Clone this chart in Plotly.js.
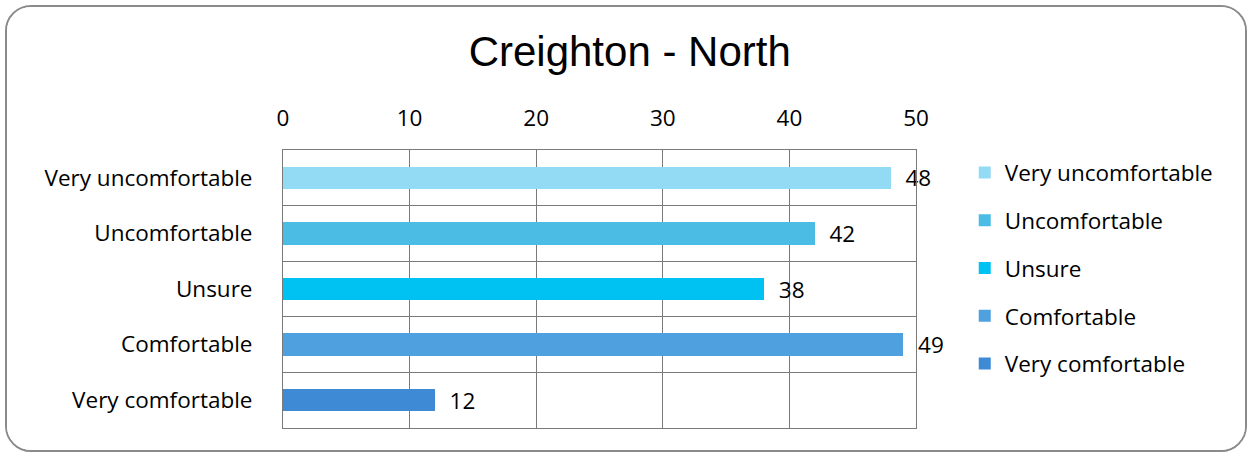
<!DOCTYPE html>
<html>
<head>
<meta charset="utf-8">
<script src="https://cdn.plot.ly/plotly-3.0.1.min.js"></script>
<style>
  body { margin: 0; background: #fff; }
  #frame {
    position: absolute; left: 5px; top: 5px;
    width: 1238px; height: 443px;
    border: 2px solid #8a8a8a; border-radius: 26px;
    overflow: hidden;
  }
  #myDiv { width: 1238px; height: 443px; }
</style>
</head>
<body>
<div id="frame"><div id="myDiv"></div></div>
<script>
var categories = ['Very uncomfortable', 'Uncomfortable', 'Unsure', 'Comfortable', 'Very comfortable'];
var counts = [48, 42, 38, 49, 12];
var colors = ['#93DAF5', '#4BBDE4', '#00C2F2', '#4FA0DF', '#3F8AD5'];

var labelFont = { family: 'Open Sans', size: 22.5, color: '#000' };

var data = categories.map(function (cat, i) {
   return {
      type: 'bar',
      orientation: 'h',
      name: cat,
      legendgroup: cat,
      y: [cat],
      x: [counts[i]],
      width: 0.4,
      text: [String(counts[i])],
      texttemplate: '  %{text}',
      textposition: 'outside',
      constraintext: 'none',
      cliponaxis: false,
      textfont: labelFont,
      marker: { color: colors[i] },
      hoverinfo: 'x+y'
   };
});

var layout = {
   width: 1238,
   height: 443,
   margin: { l: 276, r: 329, t: 143, b: 22 },
   paper_bgcolor: '#fff',
   plot_bgcolor: '#fff',
   barmode: 'stack',
   title: {
      text: 'Creighton - North',
      font: { family: 'Liberation Sans', size: 42, color: '#000' },
      x: 0.503, xanchor: 'center',
      yref: 'container', y: 0.9, yanchor: 'middle'
   },
   xaxis: {
      side: 'top',
      range: [0, 50],
      dtick: 10,
      showgrid: true,
      gridcolor: '#7a7a7a',
      gridwidth: 1,
      showline: true,
      linecolor: '#7a7a7a',
      mirror: true,
      zeroline: false,
      ticks: '',
      ticklabelstandoff: 14,
      tickfont: labelFont
   },
   yaxis: {
      type: 'category',
      categoryorder: 'array',
      categoryarray: categories,
      autorange: 'reversed',
      tickson: 'boundaries',
      showgrid: true,
      gridcolor: '#7a7a7a',
      gridwidth: 1,
      showline: true,
      linecolor: '#7a7a7a',
      mirror: true,
      ticks: '',
      ticklabelstandoff: 25,
      tickfont: labelFont
   },
   showlegend: true,
   legend: {
      x: 1.077, xanchor: 'left',
      y: 0.995, yanchor: 'top',
      traceorder: 'grouped',
      tracegroupgap: 15.5,
      itemwidth: 30,
      font: labelFont
   }
};

Plotly.newPlot('myDiv', data, layout, { displayModeBar: false, staticPlot: true });
</script>
</body>
</html>
